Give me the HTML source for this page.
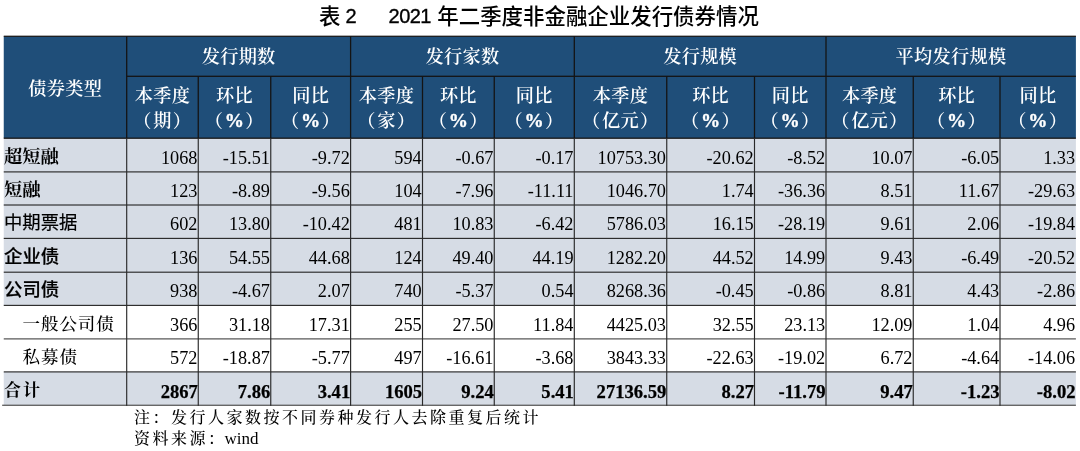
<!DOCTYPE html>
<html lang="zh-CN">
<head>
<meta charset="utf-8">
<title>表 2 2021 年二季度非金融企业发行债券情况</title>
<style>
html,body{margin:0;padding:0;background:#fff;}
body{width:1080px;height:451px;position:relative;overflow:hidden;font-family:"Liberation Serif","Noto Serif CJK SC",serif;color:#000;}
svg.grid{position:absolute;left:0;top:0;}
.t{position:absolute;top:4.5px;height:24px;line-height:24px;font-family:"Liberation Sans","Noto Sans CJK SC",sans-serif;font-size:21.45px;font-weight:500;color:#000;white-space:pre;}
.t .d{font-size:20px;letter-spacing:-0.55px;font-weight:400;-webkit-text-stroke:0.35px #000;position:relative;top:-0.47px;}
.t .g{display:inline-block;overflow:hidden;height:10px;-webkit-text-stroke:0;}
.h{position:absolute;color:#fff;text-align:center;font-family:"Liberation Serif","Noto Serif CJK SC",serif;font-weight:600;font-size:18.2px;letter-spacing:0.3px;white-space:nowrap;}
.h .pl{margin-right:1.5px;margin-left:-1.5px;}
.h .pr{margin-left:1px;margin-right:-1px;}
.h .pc{font-size:19.2px;-webkit-text-stroke:0.35px #fff;}
.n{position:absolute;text-align:right;font-family:"Liberation Serif",serif;font-size:18.25px;white-space:nowrap;}
.b{font-weight:700;font-size:18.6px;-webkit-text-stroke:0.25px #000;}
.l{position:absolute;white-space:nowrap;font-size:18px;}
.serifb{font-family:"Liberation Serif","Noto Serif CJK SC",serif;font-weight:700;font-size:18.3px;}
.hei{font-family:"Liberation Sans","Noto Sans CJK SC",sans-serif;font-weight:400;font-size:18.35px;-webkit-text-stroke:0.2px #000;}
.heib{font-family:"Liberation Sans","Noto Sans CJK SC",sans-serif;font-weight:500;font-size:18.4px;-webkit-text-stroke:0.22px #000;}
.kai{font-family:"Liberation Serif","Noto Serif CJK SC",serif;font-weight:500;font-size:17.5px;letter-spacing:0.9px;}
.kaib{font-family:"Liberation Serif","Noto Serif CJK SC",serif;font-weight:700;font-size:17px;letter-spacing:2px;}
.note{position:absolute;left:134px;font-family:"Liberation Serif","Noto Serif CJK SC",serif;font-size:16px;font-weight:500;white-space:pre;letter-spacing:2.5px;}
.note i{font-style:normal;letter-spacing:0;font-size:17px;margin-left:-2px;}
</style>
</head>
<body>
<svg class="grid" width="1080" height="451" viewBox="0 0 1080 451">
<rect x="3.75" y="36.30" width="1072.15" height="101.90" fill="#1F4E79"/>
<rect x="3.75" y="138.20" width="1072.15" height="167.20" fill="#D6DCE5"/>
<rect x="3.75" y="371.90" width="1072.15" height="33.35" fill="#D6DCE5"/>
<rect x="3.75" y="35.65" width="1072.15" height="1.30" fill="#1c1c1c"/>
<rect x="126.70" y="75.65" width="949.20" height="1.30" fill="#141414"/>
<rect x="3.75" y="137.55" width="1072.15" height="1.30" fill="#141414"/>
<rect x="3.75" y="171.33" width="1072.15" height="1.15" fill="#2a2a2a"/>
<rect x="3.75" y="204.43" width="1072.15" height="1.15" fill="#2a2a2a"/>
<rect x="3.75" y="237.83" width="1072.15" height="1.15" fill="#2a2a2a"/>
<rect x="3.75" y="271.62" width="1072.15" height="1.15" fill="#2a2a2a"/>
<rect x="3.75" y="304.82" width="1072.15" height="1.15" fill="#2a2a2a"/>
<rect x="3.75" y="338.32" width="1072.15" height="1.15" fill="#4a4a4a"/>
<rect x="3.75" y="371.32" width="1072.15" height="1.15" fill="#2a2a2a"/>
<rect x="2.15" y="404.68" width="1073.75" height="1.15" fill="#4a4a4a"/>
<rect x="126.05" y="36.30" width="1.30" height="101.90" fill="#141414"/>
<rect x="126.12" y="138.20" width="1.15" height="267.62" fill="#2a2a2a"/>
<rect x="197.60" y="76.30" width="1.30" height="61.90" fill="#141414"/>
<rect x="197.68" y="138.20" width="1.15" height="267.62" fill="#2a2a2a"/>
<rect x="270.10" y="76.30" width="1.30" height="61.90" fill="#141414"/>
<rect x="270.18" y="138.20" width="1.15" height="267.62" fill="#2a2a2a"/>
<rect x="349.95" y="36.30" width="1.30" height="101.90" fill="#141414"/>
<rect x="350.03" y="138.20" width="1.15" height="267.62" fill="#2a2a2a"/>
<rect x="421.85" y="76.30" width="1.30" height="61.90" fill="#141414"/>
<rect x="421.93" y="138.20" width="1.15" height="267.62" fill="#2a2a2a"/>
<rect x="493.60" y="76.30" width="1.30" height="61.90" fill="#141414"/>
<rect x="493.68" y="138.20" width="1.15" height="267.62" fill="#2a2a2a"/>
<rect x="573.65" y="36.30" width="1.30" height="101.90" fill="#141414"/>
<rect x="573.72" y="138.20" width="1.15" height="267.62" fill="#2a2a2a"/>
<rect x="666.10" y="76.30" width="1.30" height="61.90" fill="#141414"/>
<rect x="666.17" y="138.20" width="1.15" height="267.62" fill="#2a2a2a"/>
<rect x="753.85" y="76.30" width="1.30" height="61.90" fill="#141414"/>
<rect x="753.92" y="138.20" width="1.15" height="267.62" fill="#2a2a2a"/>
<rect x="825.35" y="36.30" width="1.30" height="101.90" fill="#141414"/>
<rect x="825.42" y="138.20" width="1.15" height="267.62" fill="#2a2a2a"/>
<rect x="912.60" y="76.30" width="1.30" height="61.90" fill="#141414"/>
<rect x="912.67" y="138.20" width="1.15" height="267.62" fill="#2a2a2a"/>
<rect x="999.35" y="76.30" width="1.30" height="61.90" fill="#141414"/>
<rect x="999.42" y="138.20" width="1.15" height="267.62" fill="#2a2a2a"/>
</svg>
<div class="t" style="left:319px">表<span class="g" style="width:5.15px"> </span><span class="d">2</span><span class="g" style="width:32.45px">    </span><span class="d">2021</span><span class="g" style="width:6.4px"> </span>年二季度非金融企业发行债券情况</div>
<div class="h" style="left:3.75px;width:122.95px;top:74px;line-height:30px">债券类型</div>
<div class="h" style="left:126.7px;width:223.90px;top:41.9px;line-height:30px">发行期数</div>
<div class="h" style="left:350.6px;width:223.70px;top:41.9px;line-height:30px">发行家数</div>
<div class="h" style="left:574.3px;width:251.70px;top:41.9px;line-height:30px">发行规模</div>
<div class="h" style="left:826px;width:249.90px;top:41.9px;line-height:30px">平均发行规模</div>
<div class="h" style="left:126.7px;width:71.55px;top:84.3px;line-height:24.6px">本季度<br><span class="pl">（</span>期<span class="pr">）</span></div>
<div class="h" style="left:198.25px;width:72.50px;top:84.3px;line-height:24.6px">环比<br><span class="pl">（</span><span class="pc">%</span><span class="pr">）</span></div>
<div class="h" style="left:270.75px;width:79.85px;top:84.3px;line-height:24.6px">同比<br><span class="pl">（</span><span class="pc">%</span><span class="pr">）</span></div>
<div class="h" style="left:350.6px;width:71.90px;top:84.3px;line-height:24.6px">本季度<br><span class="pl">（</span>家<span class="pr">）</span></div>
<div class="h" style="left:422.5px;width:71.75px;top:84.3px;line-height:24.6px">环比<br><span class="pl">（</span><span class="pc">%</span><span class="pr">）</span></div>
<div class="h" style="left:494.25px;width:80.05px;top:84.3px;line-height:24.6px">同比<br><span class="pl">（</span><span class="pc">%</span><span class="pr">）</span></div>
<div class="h" style="left:574.3px;width:92.45px;top:84.3px;line-height:24.6px">本季度<br><span class="pl">（</span>亿元<span class="pr">）</span></div>
<div class="h" style="left:666.75px;width:87.75px;top:84.3px;line-height:24.6px">环比<br><span class="pl">（</span><span class="pc">%</span><span class="pr">）</span></div>
<div class="h" style="left:754.5px;width:71.50px;top:84.3px;line-height:24.6px">同比<br><span class="pl">（</span><span class="pc">%</span><span class="pr">）</span></div>
<div class="h" style="left:826px;width:87.25px;top:84.3px;line-height:24.6px">本季度<br><span class="pl">（</span>亿元<span class="pr">）</span></div>
<div class="h" style="left:913.25px;width:86.75px;top:84.3px;line-height:24.6px">环比<br><span class="pl">（</span><span class="pc">%</span><span class="pr">）</span></div>
<div class="h" style="left:1000px;width:75.90px;top:84.3px;line-height:24.6px">同比<br><span class="pl">（</span><span class="pc">%</span><span class="pr">）</span></div>
<div class="l serifb" style="left:4px;top:141.55px;line-height:30px">超短融</div>
<div class="n" style="left:126.7px;width:70.75px;top:142.65px;line-height:30px">1068</div>
<div class="n" style="left:198.25px;width:71.70px;top:142.65px;line-height:30px">-15.51</div>
<div class="n" style="left:270.75px;width:79.05px;top:142.65px;line-height:30px">-9.72</div>
<div class="n" style="left:350.6px;width:71.10px;top:142.65px;line-height:30px">594</div>
<div class="n" style="left:422.5px;width:70.95px;top:142.65px;line-height:30px">-0.67</div>
<div class="n" style="left:494.25px;width:79.25px;top:142.65px;line-height:30px">-0.17</div>
<div class="n" style="left:574.3px;width:91.65px;top:142.65px;line-height:30px">10753.30</div>
<div class="n" style="left:666.75px;width:86.95px;top:142.65px;line-height:30px">-20.62</div>
<div class="n" style="left:754.5px;width:70.70px;top:142.65px;line-height:30px">-8.52</div>
<div class="n" style="left:826px;width:86.45px;top:142.65px;line-height:30px">10.07</div>
<div class="n" style="left:913.25px;width:85.95px;top:142.65px;line-height:30px">-6.05</div>
<div class="n" style="left:1000px;width:75.10px;top:142.65px;line-height:30px">1.33</div>
<div class="l serifb" style="left:4px;top:174.95px;line-height:30px">短融</div>
<div class="n" style="left:126.7px;width:70.75px;top:176.05px;line-height:30px">123</div>
<div class="n" style="left:198.25px;width:71.70px;top:176.05px;line-height:30px">-8.89</div>
<div class="n" style="left:270.75px;width:79.05px;top:176.05px;line-height:30px">-9.56</div>
<div class="n" style="left:350.6px;width:71.10px;top:176.05px;line-height:30px">104</div>
<div class="n" style="left:422.5px;width:70.95px;top:176.05px;line-height:30px">-7.96</div>
<div class="n" style="left:494.25px;width:79.25px;top:176.05px;line-height:30px">-11.11</div>
<div class="n" style="left:574.3px;width:91.65px;top:176.05px;line-height:30px">1046.70</div>
<div class="n" style="left:666.75px;width:86.95px;top:176.05px;line-height:30px">1.74</div>
<div class="n" style="left:754.5px;width:70.70px;top:176.05px;line-height:30px">-36.36</div>
<div class="n" style="left:826px;width:86.45px;top:176.05px;line-height:30px">8.51</div>
<div class="n" style="left:913.25px;width:85.95px;top:176.05px;line-height:30px">11.67</div>
<div class="n" style="left:1000px;width:75.10px;top:176.05px;line-height:30px">-29.63</div>
<div class="l hei" style="left:4px;top:208.20px;line-height:30px">中期票据</div>
<div class="n" style="left:126.7px;width:70.75px;top:209.30px;line-height:30px">602</div>
<div class="n" style="left:198.25px;width:71.70px;top:209.30px;line-height:30px">13.80</div>
<div class="n" style="left:270.75px;width:79.05px;top:209.30px;line-height:30px">-10.42</div>
<div class="n" style="left:350.6px;width:71.10px;top:209.30px;line-height:30px">481</div>
<div class="n" style="left:422.5px;width:70.95px;top:209.30px;line-height:30px">10.83</div>
<div class="n" style="left:494.25px;width:79.25px;top:209.30px;line-height:30px">-6.42</div>
<div class="n" style="left:574.3px;width:91.65px;top:209.30px;line-height:30px">5786.03</div>
<div class="n" style="left:666.75px;width:86.95px;top:209.30px;line-height:30px">16.15</div>
<div class="n" style="left:754.5px;width:70.70px;top:209.30px;line-height:30px">-28.19</div>
<div class="n" style="left:826px;width:86.45px;top:209.30px;line-height:30px">9.61</div>
<div class="n" style="left:913.25px;width:85.95px;top:209.30px;line-height:30px">2.06</div>
<div class="n" style="left:1000px;width:75.10px;top:209.30px;line-height:30px">-19.84</div>
<div class="l heib" style="left:4px;top:241.80px;line-height:30px">企业债</div>
<div class="n" style="left:126.7px;width:70.75px;top:242.90px;line-height:30px">136</div>
<div class="n" style="left:198.25px;width:71.70px;top:242.90px;line-height:30px">54.55</div>
<div class="n" style="left:270.75px;width:79.05px;top:242.90px;line-height:30px">44.68</div>
<div class="n" style="left:350.6px;width:71.10px;top:242.90px;line-height:30px">124</div>
<div class="n" style="left:422.5px;width:70.95px;top:242.90px;line-height:30px">49.40</div>
<div class="n" style="left:494.25px;width:79.25px;top:242.90px;line-height:30px">44.19</div>
<div class="n" style="left:574.3px;width:91.65px;top:242.90px;line-height:30px">1282.20</div>
<div class="n" style="left:666.75px;width:86.95px;top:242.90px;line-height:30px">44.52</div>
<div class="n" style="left:754.5px;width:70.70px;top:242.90px;line-height:30px">14.99</div>
<div class="n" style="left:826px;width:86.45px;top:242.90px;line-height:30px">9.43</div>
<div class="n" style="left:913.25px;width:85.95px;top:242.90px;line-height:30px">-6.49</div>
<div class="n" style="left:1000px;width:75.10px;top:242.90px;line-height:30px">-20.52</div>
<div class="l heib" style="left:4px;top:275.30px;line-height:30px">公司债</div>
<div class="n" style="left:126.7px;width:70.75px;top:276.40px;line-height:30px">938</div>
<div class="n" style="left:198.25px;width:71.70px;top:276.40px;line-height:30px">-4.67</div>
<div class="n" style="left:270.75px;width:79.05px;top:276.40px;line-height:30px">2.07</div>
<div class="n" style="left:350.6px;width:71.10px;top:276.40px;line-height:30px">740</div>
<div class="n" style="left:422.5px;width:70.95px;top:276.40px;line-height:30px">-5.37</div>
<div class="n" style="left:494.25px;width:79.25px;top:276.40px;line-height:30px">0.54</div>
<div class="n" style="left:574.3px;width:91.65px;top:276.40px;line-height:30px">8268.36</div>
<div class="n" style="left:666.75px;width:86.95px;top:276.40px;line-height:30px">-0.45</div>
<div class="n" style="left:754.5px;width:70.70px;top:276.40px;line-height:30px">-0.86</div>
<div class="n" style="left:826px;width:86.45px;top:276.40px;line-height:30px">8.81</div>
<div class="n" style="left:913.25px;width:85.95px;top:276.40px;line-height:30px">4.43</div>
<div class="n" style="left:1000px;width:75.10px;top:276.40px;line-height:30px">-2.86</div>
<div class="l kai" style="left:22.6px;top:308.75px;line-height:30px">一般公司债</div>
<div class="n" style="left:126.7px;width:70.75px;top:309.75px;line-height:30px">366</div>
<div class="n" style="left:198.25px;width:71.70px;top:309.75px;line-height:30px">31.18</div>
<div class="n" style="left:270.75px;width:79.05px;top:309.75px;line-height:30px">17.31</div>
<div class="n" style="left:350.6px;width:71.10px;top:309.75px;line-height:30px">255</div>
<div class="n" style="left:422.5px;width:70.95px;top:309.75px;line-height:30px">27.50</div>
<div class="n" style="left:494.25px;width:79.25px;top:309.75px;line-height:30px">11.84</div>
<div class="n" style="left:574.3px;width:91.65px;top:309.75px;line-height:30px">4425.03</div>
<div class="n" style="left:666.75px;width:86.95px;top:309.75px;line-height:30px">32.55</div>
<div class="n" style="left:754.5px;width:70.70px;top:309.75px;line-height:30px">23.13</div>
<div class="n" style="left:826px;width:86.45px;top:309.75px;line-height:30px">12.09</div>
<div class="n" style="left:913.25px;width:85.95px;top:309.75px;line-height:30px">1.04</div>
<div class="n" style="left:1000px;width:75.10px;top:309.75px;line-height:30px">4.96</div>
<div class="l kai" style="left:22.6px;top:342.00px;line-height:30px">私募债</div>
<div class="n" style="left:126.7px;width:70.75px;top:343.00px;line-height:30px">572</div>
<div class="n" style="left:198.25px;width:71.70px;top:343.00px;line-height:30px">-18.87</div>
<div class="n" style="left:270.75px;width:79.05px;top:343.00px;line-height:30px">-5.77</div>
<div class="n" style="left:350.6px;width:71.10px;top:343.00px;line-height:30px">497</div>
<div class="n" style="left:422.5px;width:70.95px;top:343.00px;line-height:30px">-16.61</div>
<div class="n" style="left:494.25px;width:79.25px;top:343.00px;line-height:30px">-3.68</div>
<div class="n" style="left:574.3px;width:91.65px;top:343.00px;line-height:30px">3843.33</div>
<div class="n" style="left:666.75px;width:86.95px;top:343.00px;line-height:30px">-22.63</div>
<div class="n" style="left:754.5px;width:70.70px;top:343.00px;line-height:30px">-19.02</div>
<div class="n" style="left:826px;width:86.45px;top:343.00px;line-height:30px">6.72</div>
<div class="n" style="left:913.25px;width:85.95px;top:343.00px;line-height:30px">-4.64</div>
<div class="n" style="left:1000px;width:75.10px;top:343.00px;line-height:30px">-14.06</div>
<div class="l kaib" style="left:4px;top:376.38px;line-height:30px">合计</div>
<div class="n b" style="left:126.7px;width:71.15px;top:376.88px;line-height:30px">2867</div>
<div class="n b" style="left:198.25px;width:72.10px;top:376.88px;line-height:30px">7.86</div>
<div class="n b" style="left:270.75px;width:79.45px;top:376.88px;line-height:30px">3.41</div>
<div class="n b" style="left:350.6px;width:71.50px;top:376.88px;line-height:30px">1605</div>
<div class="n b" style="left:422.5px;width:71.35px;top:376.88px;line-height:30px">9.24</div>
<div class="n b" style="left:494.25px;width:79.65px;top:376.88px;line-height:30px">5.41</div>
<div class="n b" style="left:574.3px;width:92.05px;top:376.88px;line-height:30px">27136.59</div>
<div class="n b" style="left:666.75px;width:87.35px;top:376.88px;line-height:30px">8.27</div>
<div class="n b" style="left:754.5px;width:71.10px;top:376.88px;line-height:30px">-11.79</div>
<div class="n b" style="left:826px;width:86.85px;top:376.88px;line-height:30px">9.47</div>
<div class="n b" style="left:913.25px;width:86.35px;top:376.88px;line-height:30px">-1.23</div>
<div class="n b" style="left:1000px;width:75.50px;top:376.88px;line-height:30px">-8.02</div>
<div class="note" style="top:406.8px;line-height:22px">注：发行人家数按不同券种发行人去除重复后统计</div>
<div class="note" style="top:427.7px;line-height:22px">资料来源：<i>wind</i></div>
</body>
</html>
